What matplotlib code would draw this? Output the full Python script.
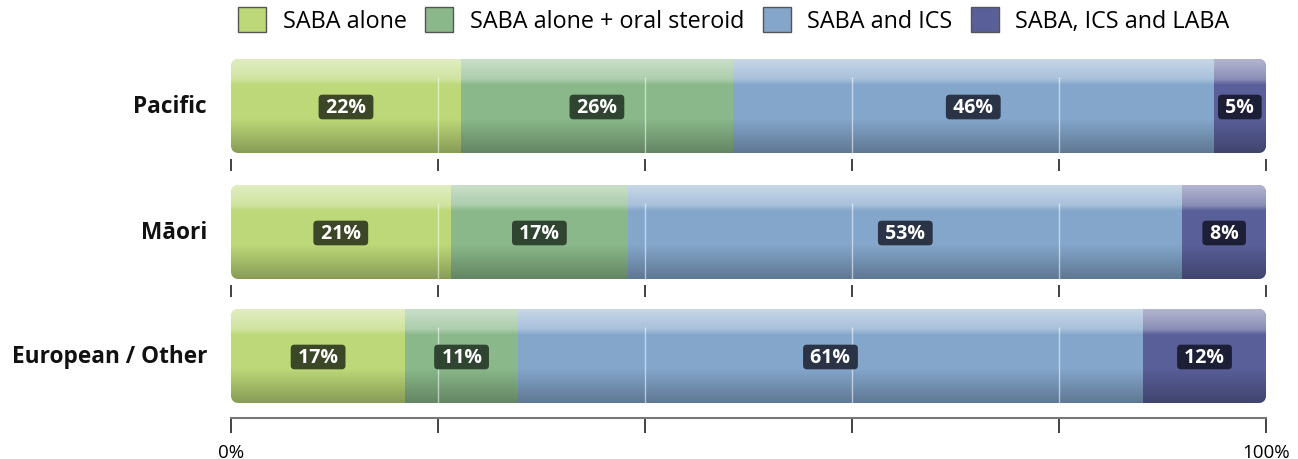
import numpy as np
import matplotlib
matplotlib.use("Agg")
import matplotlib.pyplot as plt
from matplotlib.patches import FancyBboxPatch, Patch
from matplotlib.colors import to_rgb

# ---------------- data ----------------
groups = ["Pacific", "Māori", "European / Other"]
series = ["SABA alone", "SABA alone + oral steroid", "SABA and ICS", "SABA, ICS and LABA"]
saba_alone = [22, 21, 17]
saba_oral = [26, 17, 11]
saba_ics = [46, 53, 61]
saba_ics_laba = [5, 8, 12]
tick_values = [0, 20, 40, 60, 80, 100]
tick_labels = ["0%", "", "", "", "", "100%"]

# ---------------- style ----------------
colors = ["#bcd878", "#8ab88a", "#84a6cb", "#595f98"]
label_bg = ["#3b4727", "#2f4531", "#2a3446", "#1d1f36"]
plt.rcParams["font.family"] = ["Open Sans", "DejaVu Sans"]

W, H = 1298, 460
fig = plt.figure(figsize=(W / 100, H / 100), dpi=100)

x0_px, x1_px = 231, 1266
bar_h = 94
# (top px, bottom px of axes)
axes_px = [(60, 160), (186, 286), (310, 419)]

data = np.array([saba_alone, saba_oral, saba_ics, saba_ics_laba], dtype=float).T


def gradient(base, n=376):
    base = np.array(to_rgb(base))
    img = np.zeros((n, 4, 3))
    for i in range(n):
        px = (i + 0.5) / n * bar_h
        if px < 20:
            a = 0.55 - 0.25 * (px / 20)
        elif px < 26:
            a = 0.30 * (1 - (px - 20) / 6)
        else:
            a = 0.0
        c = base + (1 - base) * a
        if px >= 60:
            c = base * (1 - 0.28 * (px - 60) / (bar_h - 60))
        img[i, :] = c
    return img


for gi, (top, bot) in enumerate(axes_px):
    ax = fig.add_axes([x0_px / W, (H - bot) / H, (x1_px - x0_px) / W, (bot - top) / H])
    gap = (bot - top) - bar_h
    vals = data[gi]
    widths = vals / vals.sum() * 100
    lefts = np.concatenate([[0], np.cumsum(widths)[:-1]])

    px_per_x = (x1_px - x0_px) / 100.0
    r = 8 / px_per_x
    clip = FancyBboxPatch((0, 0), 100, bar_h,
                          boxstyle=f"round,pad=0,rounding_size={r}",
                          mutation_aspect=px_per_x, facecolor="none",
                          edgecolor="none", transform=ax.transData)
    ax.add_patch(clip)

    bars = ax.barh(bar_h / 2, widths, left=lefts, height=bar_h,
                   color=colors, edgecolor="none", zorder=1)
    for b, c in zip(bars, colors):
        b.set_clip_path(clip)
        x, y = b.get_x(), b.get_y()
        im = ax.imshow(gradient(c), extent=(x, x + b.get_width(), y, y + b.get_height()),
                       aspect="auto", interpolation="nearest", zorder=2)
        im.set_clip_path(clip)

    # light grid lines inside bar (below glossy band)
    ax.vlines(tick_values[1:-1], 0, bar_h - 18, colors="white", alpha=0.55,
              linewidth=1, zorder=3)

    for b, v, bg in zip(bars, vals, label_bg):
        ax.text(b.get_x() + b.get_width() / 2, bar_h / 2 - 1, f" {int(v)}% ",
                ha="center", va="center", color="white", fontsize=14,
                fontweight="bold", zorder=5,
                bbox=dict(boxstyle="round,pad=0.12,rounding_size=0.2",
                          fc=bg, ec="none"))

    ax.set_xlim(0, 100)
    ax.set_ylim(-gap, bar_h)
    ax.set_yticks([])
    ax.set_xticks(tick_values)
    for s in ["top", "left", "right"]:
        ax.spines[s].set_visible(False)
    if gi == len(axes_px) - 1:
        ax.spines["bottom"].set_color("#777777")
        ax.spines["bottom"].set_linewidth(1.5)
        ax.tick_params(axis="x", direction="out", length=10.8, width=1.2,
                       color="#222222", labelsize=13.5, pad=7)
        ax.set_xticklabels(tick_labels)
    else:
        ax.spines["bottom"].set_visible(False)
        ax.tick_params(axis="x", direction="out", length=8.6, width=1.2,
                       color="#222222", labelbottom=False)

    fig.text((x0_px - 24) / W, 1 - (top + bar_h / 2) / H, groups[gi],
             ha="right", va="center", fontsize=16.3, fontweight="bold", color="#111111")

handles = [Patch(facecolor=c, edgecolor="#555555", linewidth=1) for c in colors]
fig.legend(handles, series, loc="upper center", bbox_to_anchor=(734 / W, 1 - 8 / H),
           ncol=4, frameon=False, fontsize=16.8, handlelength=1.2, handleheight=1.25,
           handletextpad=0.7, columnspacing=0.8, borderaxespad=0, borderpad=0)

fig.savefig("out.png", dpi=100)
